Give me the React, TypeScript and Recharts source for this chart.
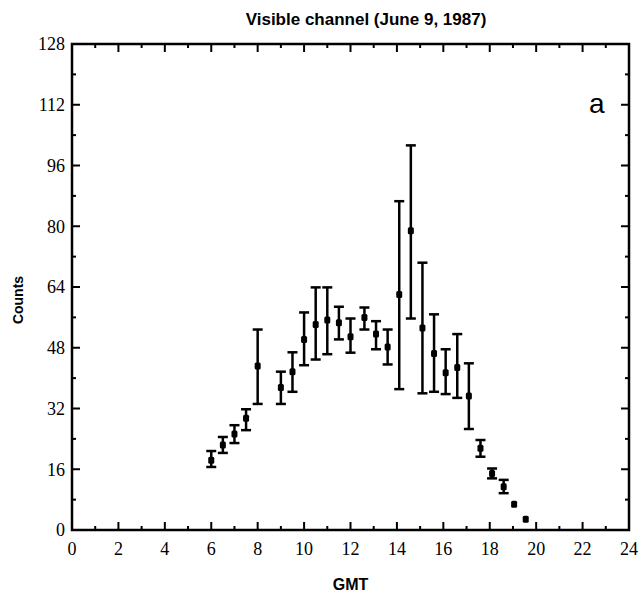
import {
  ComposedChart,
  Scatter,
  ErrorBar,
  XAxis,
  YAxis,
  ReferenceArea,
  Label,
} from "recharts";

const gmt = [6.0, 6.5, 7.0, 7.5, 8.0, 9.0, 9.5, 10.0, 10.5, 11.0, 11.5, 12.0, 12.6, 13.1, 13.6, 14.1, 14.6, 15.1, 15.6, 16.1, 16.6, 17.1, 17.6, 18.1, 18.6, 19.05, 19.55];
const counts = [18.4, 22.4, 25.3, 29.4, 43.2, 37.5, 41.7, 50.2, 54.1, 55.3, 54.6, 50.9, 56.0, 51.6, 48.2, 62.0, 78.8, 53.2, 46.5, 41.4, 42.8, 35.3, 21.5, 14.9, 11.4, 6.8, 2.8];
const upper = [20.8, 24.5, 27.6, 31.8, 52.8, 41.7, 46.8, 57.3, 63.9, 63.9, 58.8, 55.7, 58.6, 55.0, 52.8, 86.6, 101.3, 70.4, 56.8, 47.6, 51.6, 43.9, 23.7, 16.2, 13.2, null, null];
const lower = [16.6, 20.3, 22.9, 26.3, 33.2, 33.2, 36.4, 43.4, 44.9, 46.3, 50.2, 46.7, 52.8, 47.6, 43.6, 37.1, 55.7, 36.0, 36.4, 35.8, 34.8, 26.6, 19.3, 13.6, 9.7, null, null];

const xTicks = Array.from({ length: 25 }, (_, i) => i);
const yTicks = Array.from({ length: 17 }, (_, i) => i * 8);

const W = 640;
const H = 597;
const TOP = 44;
const BOTTOM = 530;
const LEFT = 72;
const RIGHT = 629;
const serif = "'Liberation Serif', 'Times New Roman', serif";
const sans = "'Liberation Sans', Arial, sans-serif";

const data = gmt.map((x, i) => ({
  x,
  y: counts[i],
  err:
    upper[i] == null || lower[i] == null
      ? null
      : [counts[i] - (lower[i] as number), (upper[i] as number) - counts[i]],
}));

function XTick(props: any) {
  const { x, payload } = props;
  const v = payload.value as number;
  const major = v % 2 === 0;
  const len = major ? 8 : 4;
  return (
    <g>
      <line x1={x} x2={x} y1={BOTTOM} y2={BOTTOM - len} stroke="#000" strokeWidth={2} />
      <line x1={x} x2={x} y1={TOP} y2={TOP + len} stroke="#000" strokeWidth={2} />
      {major && (
        <text x={x} y={BOTTOM + 25} textAnchor="middle" fontFamily={serif} fontSize={18} fill="#000">
          {v}
        </text>
      )}
    </g>
  );
}

function YTick(props: any) {
  const { y, payload } = props;
  const v = payload.value as number;
  const major = v % 16 === 0;
  const len = major ? 8 : 4;
  return (
    <g>
      <line x1={LEFT} x2={LEFT + len} y1={y} y2={y} stroke="#000" strokeWidth={2} />
      <line x1={RIGHT} x2={RIGHT - len} y1={y} y2={y} stroke="#000" strokeWidth={2} />
      {major && (
        <text x={LEFT - 7} y={y} dy="0.35em" textAnchor="end" fontFamily={serif} fontSize={18} fill="#000">
          {v}
        </text>
      )}
    </g>
  );
}

function Marker(props: any) {
  const { cx, cy } = props;
  return <rect x={cx - 3} y={cy - 3.5} width={6} height={7} rx={1.5} fill="#000" />;
}

export default function App() {
  return (
    <div style={{ position: "absolute", left: 0, top: 0, width: W, height: H, background: "#fff" }}>
      <div
        style={{
          position: "absolute",
          left: 166,
          width: 400,
          top: 10,
          textAlign: "center",
          fontFamily: sans,
          fontWeight: "bold",
          fontSize: 17,
          lineHeight: "20px",
        }}
      >
        Visible channel (June 9, 1987)
      </div>
      <div
        style={{
          position: "absolute",
          left: -22,
          top: 291,
          width: 80,
          textAlign: "center",
          transform: "rotate(-90deg)",
          fontFamily: sans,
          fontWeight: "bold",
          fontSize: 14,
          lineHeight: "18px",
        }}
      >
        Counts
      </div>
      <div style={{ position: "absolute", left: 589, top: 88, fontFamily: sans, fontSize: 28, lineHeight: "32px" }}>a</div>
      <ComposedChart width={W} height={H} data={data} margin={{ top: TOP, right: W - RIGHT, bottom: 0, left: 0 }}>
        <XAxis
          type="number"
          dataKey="x"
          domain={[0, 24]}
          ticks={xTicks}
          interval={0}
          tick={<XTick />}
          tickLine={false}
          tickSize={0}
          tickMargin={0}
          axisLine={false}
          height={H - BOTTOM}
        >
          <Label
            value="GMT"
            position="insideBottom"
            offset={7}
            style={{ fontFamily: sans, fontWeight: "bold", fontSize: 16, fill: "#000" }}
          />
        </XAxis>
        <YAxis
          type="number"
          dataKey="y"
          domain={[0, 128]}
          ticks={yTicks}
          interval={0}
          tick={<YTick />}
          tickLine={false}
          tickSize={0}
          tickMargin={0}
          axisLine={false}
          width={LEFT}
        />
        <ReferenceArea x1={0} x2={24} y1={0} y2={128} fill="none" fillOpacity={0} stroke="#000" strokeWidth={2.5} />
        <Scatter dataKey="y" fill="#000" shape={<Marker />} isAnimationActive={false}>
          <ErrorBar dataKey="err" direction="y" width={5} stroke="#000" strokeWidth={2.5} isAnimationActive={false} />
        </Scatter>
      </ComposedChart>
    </div>
  );
}
